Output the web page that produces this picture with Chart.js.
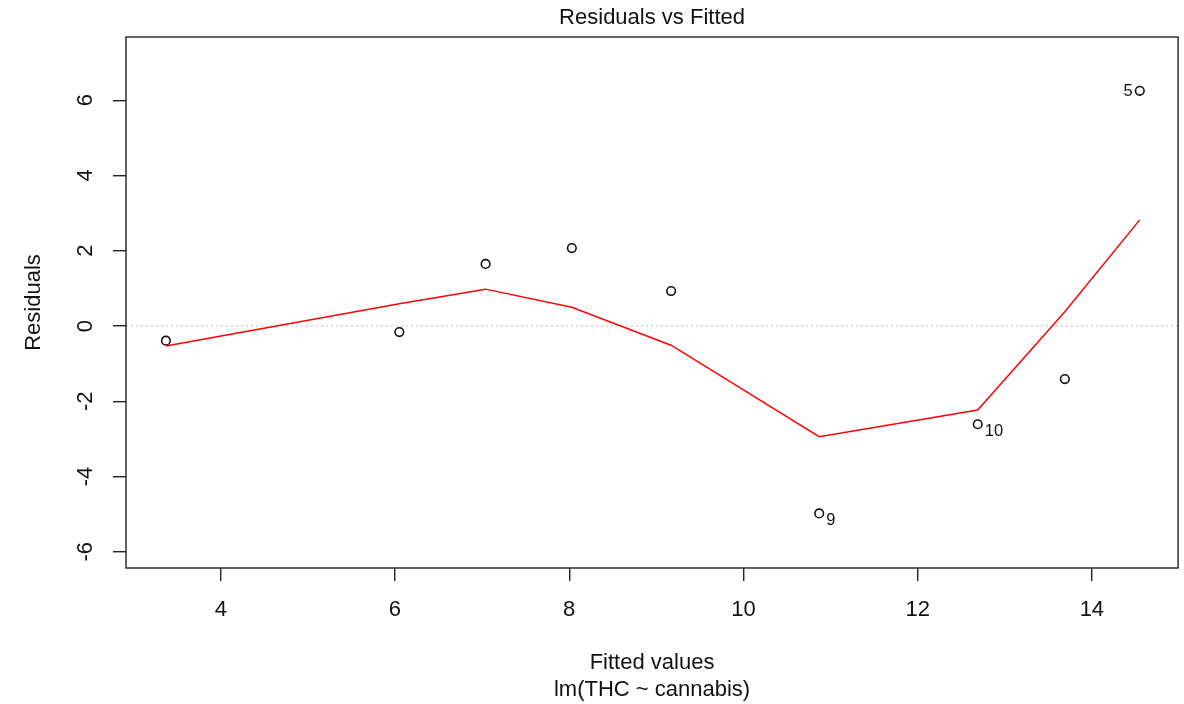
<!DOCTYPE html>
<html>
<head>
<meta charset="utf-8">
<script src="https://cdn.jsdelivr.net/npm/chart.js@4.4.1/dist/chart.umd.min.js"></script>
<style>
  html, body { margin: 0; padding: 0; background: #fff; }
  #wrap { width: 1184px; height: 704px; }
</style>
</head>
<body>
<div id="wrap"><canvas id="myChart" width="1184" height="704"></canvas></div>
<script>
// residuals vs fitted
const fitted = [3.37, 6.05, 7.04, 8.03, 9.17, 10.87, 12.69, 13.69, 14.55];
const residuals = [-0.39, -0.16, 1.65, 2.07, 0.93, -4.98, -2.61, -1.41, 6.25];
const smooth = [-0.53, 0.59, 0.98, 0.50, -0.51, -2.94, -2.23, 0.38, 2.82];
const pointIds = ["", "", "", "", "", "9", "10", "", "5"];
const xTicks = [4, 6, 8, 10, 12, 14];
const yTicks = [-6, -4, -2, 0, 2, 4, 6];

const FONT = "'Liberation Sans', Arial, sans-serif";
const INK = "#111";

const extras = {
  id: "extras",
  beforeDatasetsDraw(chart) {
    const { ctx, chartArea, scales } = chart;
    // dotted zero line
    const y0 = scales.y.getPixelForValue(0);
    ctx.save();
    ctx.strokeStyle = "#bdbdbd";
    ctx.lineWidth = 1;
    ctx.setLineDash([2, 3]);
    ctx.beginPath();
    ctx.moveTo(chartArea.left, y0);
    ctx.lineTo(chartArea.right, y0);
    ctx.stroke();
    ctx.restore();
  },
  afterDraw(chart) {
    const { ctx, chartArea, scales } = chart;
    const cx = (chartArea.left + chartArea.right) / 2;
    ctx.save();
    // box
    ctx.strokeStyle = "#222";
    ctx.lineWidth = 1.4;
    ctx.strokeRect(chartArea.left, chartArea.top, chartArea.right - chartArea.left, chartArea.bottom - chartArea.top);

    ctx.fillStyle = INK;
    ctx.textAlign = "center";
    ctx.textBaseline = "middle";
    ctx.font = "22px " + FONT;
    ctx.fillText("Residuals vs Fitted", cx, 18);
    ctx.fillText("Fitted values", cx, 663);
    ctx.fillText("lm(THC ~ cannabis)", cx, 690);

    // y tick labels, rotated like R
    yTicks.forEach(v => {
      const py = scales.y.getPixelForValue(v);
      ctx.save();
      ctx.translate(86, py);
      ctx.rotate(-Math.PI / 2);
      ctx.fillText(String(v), 0, 0);
      ctx.restore();
    });

    ctx.save();
    ctx.translate(34, (chartArea.top + chartArea.bottom) / 2);
    ctx.rotate(-Math.PI / 2);
    ctx.fillText("Residuals", 0, 0);
    ctx.restore();

    // point ids
    const meta = chart.getDatasetMeta(1);
    ctx.font = "16.5px " + FONT;
    pointIds.forEach((id, i) => {
      if (!id) return;
      const el = meta.data[i];
      if (fitted[i] > 14) {
        ctx.textAlign = "right";
        ctx.fillText(id, el.x - 7, el.y + 1);
      } else {
        ctx.textAlign = "left";
        ctx.fillText(id, el.x + 7, el.y + 7);
      }
    });
    ctx.restore();
  }
};

const ctx = document.getElementById("myChart").getContext("2d");
new Chart(ctx, {
  type: "scatter",
  data: {
    datasets: [
      {
        type: "line",
        label: "smooth",
        data: fitted.map((x, i) => ({ x: x, y: smooth[i] })),
        borderColor: "#ff0000",
        borderWidth: 1.5,
        pointRadius: 0,
        tension: 0,
        fill: false,
      },
      {
        label: "residuals",
        data: fitted.map((x, i) => ({ x: x, y: residuals[i] })),
        pointRadius: 4.3,
        pointBorderColor: "#111",
        pointBackgroundColor: "rgba(0,0,0,0)",
        pointBorderWidth: 1.6,
      },
    ],
  },
  options: {
    responsive: false,
    animation: false,
    layout: { padding: { top: 37, right: 0, left: 0, bottom: 0 } },
    plugins: { legend: { display: false }, tooltip: { enabled: false } },
    scales: {
      x: {
        type: "linear",
        min: 2.912,
        max: 14.99,
        afterBuildTicks: s => { s.ticks = xTicks.map(v => ({ value: v })); },
        afterFit: s => { s.height = 136; s.paddingLeft = 0; s.paddingRight = 0; },
        border: { display: false },
        grid: { drawOnChartArea: false, drawTicks: true, tickLength: 13, color: "#222", lineWidth: 1.4 },
        ticks: { color: INK, font: { family: FONT, size: 22 }, padding: 16, maxRotation: 0 },
      },
      y: {
        type: "linear",
        min: -6.43,
        max: 7.68,
        afterBuildTicks: s => { s.ticks = yTicks.map(v => ({ value: v })); },
        afterFit: s => { s.width = 126; s.paddingTop = 0; s.paddingBottom = 0; },
        border: { display: false },
        grid: { drawOnChartArea: false, drawTicks: true, tickLength: 13, color: "#222", lineWidth: 1.4 },
        ticks: { color: "rgba(0,0,0,0)", font: { family: FONT, size: 22 } },
      },
    },
  },
  plugins: [extras],
});
</script>
</body>
</html>
